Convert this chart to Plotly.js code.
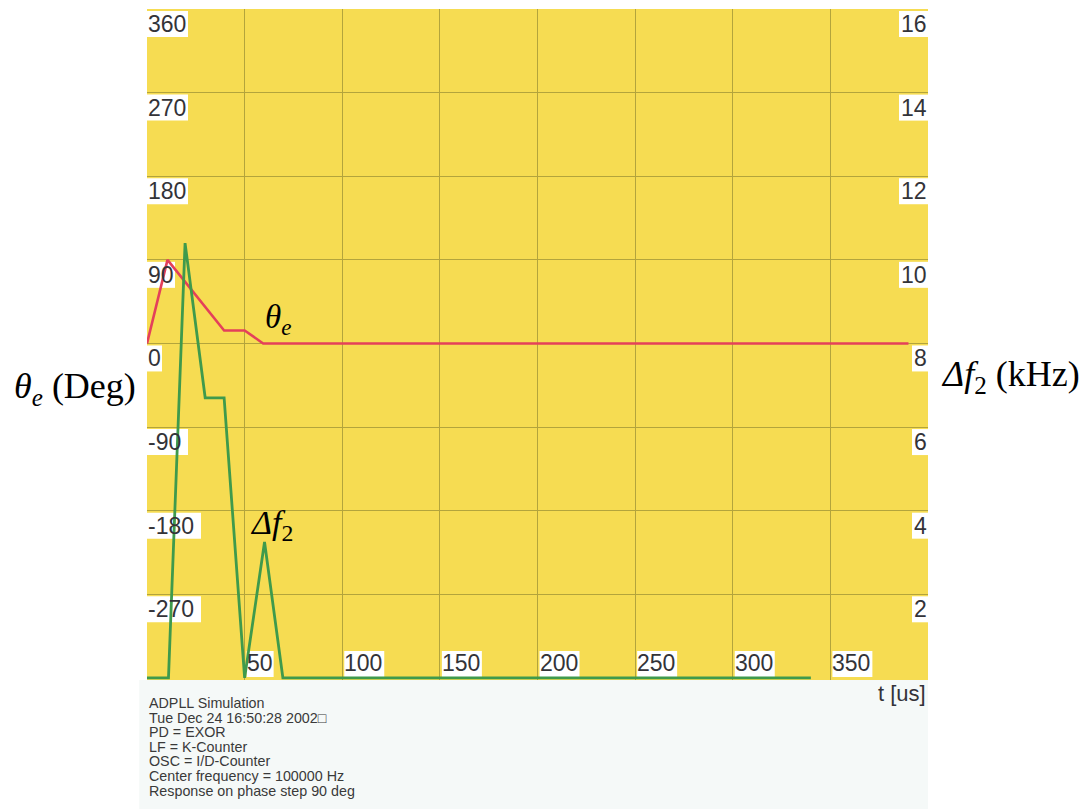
<!DOCTYPE html>
<html>
<head>
<meta charset="utf-8">
<script src="https://cdn.plot.ly/plotly-3.0.1.min.js"></script>
<style>html,body{margin:0;padding:0;background:#fff;}#chart{width:1087px;height:809px;}</style>
</head>
<body>
<div id="chart"></div>
<script>
// Data
const thetaT = [0, 10.5, 39.5, 50, 59.5, 390];   // t [us]
const thetaDeg = [0, 90, 14, 14, 0, 0];          // theta_e (deg)
const dfT = [0, 11, 19.5, 29.8, 39.5, 50, 60.2, 69.6, 340]; // t [us]
const dfKHz = [0, 0, 10.4, 6.7, 6.7, 0, 3.25, 0, 0];     // delta f2 (kHz)

const xTicks = [50, 100, 150, 200, 250, 300, 350];
const yLeftTicks = [360, 270, 180, 90, 0, -90, -180, -270];
const yLeftLabels = ["360", "270", "180", "90", "0", "-90", "-180", "-270"];
const yRightTicks = [16, 14, 12, 10, 8, 6, 4, 2];
const infoLines = [
  "ADPLL Simulation",
  "Tue Dec 24 16:50:28 2002\u25A1",
  "PD = EXOR",
  "LF = K-Counter",
  "OSC = I/D-Counter",
  "Center frequency = 100000 Hz",
  "Response on phase step 90 deg"
];

const sans = "Liberation Sans, Arial, sans-serif";
const serif = "Liberation Serif, Times New Roman, serif";
const tickFont = {family: sans, size: 23, color: "#333338"};
const labW = s => 13 * s.length + 2;

const traces = [
  {x: thetaT, y: thetaDeg, mode: "lines", line: {color: "#e4405a", width: 2.6}, yaxis: "y", hoverinfo: "skip"},
  {x: dfT, y: dfKHz, mode: "lines", line: {color: "#3f9a4c", width: 2.8}, yaxis: "y2", hoverinfo: "skip"}
];

const ann = [];
const shapes = [{type: "rect", xref: "paper", yref: "paper", x0: -0.01, x1: 1.0, y0: -0.193, y1: 0,
  fillcolor: "#f5f9f8", line: {width: 0}, layer: "below"}];
const boxStyle = {fillcolor: "#ffffff", line: {width: 0}, layer: "between"};

yLeftTicks.forEach((v, i) => {
  const s = yLeftLabels[i];
  ann.push({xref: "paper", x: 0, yref: "y", y: v, xanchor: "left", yanchor: "top", yshift: -1,
    text: s, showarrow: false, font: tickFont, borderpad: 0});
  shapes.push(Object.assign({type: "rect", xref: "paper", xsizemode: "pixel", xanchor: 0, x0: -2, x1: labW(s),
    yref: "y", ysizemode: "pixel", yanchor: v, y0: -2, y1: -28}, boxStyle));
});
yRightTicks.forEach(v => {
  const s = String(v);
  ann.push({xref: "paper", x: 1, yref: "y2", y: v, xanchor: "right", yanchor: "top", yshift: -1,
    text: s, showarrow: false, font: tickFont, borderpad: 0});
  shapes.push(Object.assign({type: "rect", xref: "paper", xsizemode: "pixel", xanchor: 1, x0: -labW(s) - 1, x1: 0,
    yref: "y2", ysizemode: "pixel", yanchor: v, y0: -2, y1: -28}, boxStyle));
});
xTicks.forEach(v => {
  const s = String(v);
  ann.push({xref: "x", x: v, yref: "paper", y: 0, xanchor: "left", yanchor: "bottom", xshift: 1, yshift: 3,
    text: s, showarrow: false, font: tickFont, borderpad: 0});
  shapes.push(Object.assign({type: "rect", xref: "x", xsizemode: "pixel", xanchor: v, x0: 2, x1: labW(s) + 1,
    yref: "paper", ysizemode: "pixel", yanchor: 0, y0: 3, y1: 29}, boxStyle));
});
infoLines.forEach((s, i) => ann.push({
  xref: "paper", x: 0, yref: "paper", y: 0, xanchor: "left", yanchor: "middle",
  xshift: 0, yshift: -(23 + i * 14.6),
  text: s, showarrow: false, font: {family: sans, size: 14.3, color: "#3a3a3a"}
}));
// axis titles and curve labels
ann.push({xref: "paper", x: 0, yref: "paper", y: 0.5, xanchor: "right", yanchor: "middle", xshift: -9, yshift: -44,
  text: "<i>θ<sub>e</sub></i> (Deg)", showarrow: false, font: {family: serif, size: 36, color: "#000"}});
ann.push({xref: "paper", x: 1, yref: "paper", y: 0.5, xanchor: "left", yanchor: "middle", xshift: 11, yshift: -32,
  text: "<i>Δf</i><sub>2</sub> (kHz)", showarrow: false, font: {family: serif, size: 36, color: "#000"}});
ann.push({xref: "paper", x: 1, yref: "paper", y: 0, xanchor: "right", yanchor: "top", yshift: 1,
  text: "t [us]", showarrow: false, font: {family: sans, size: 22, color: "#333338"}});
ann.push({xref: "x", x: 67, yref: "y", y: 26, xanchor: "center", yanchor: "middle",
  text: "<i>θ<sub>e</sub></i>", showarrow: false, font: {family: serif, size: 33, color: "#000"}});
ann.push({xref: "x", x: 64, yref: "y2", y: 3.65, xanchor: "center", yanchor: "middle",
  text: "<i>Δf</i><sub>2</sub>", showarrow: false, font: {family: serif, size: 34, color: "#000"}});

const layout = {
  width: 1087, height: 809,
  margin: {l: 147, r: 159, t: 9, b: 129, pad: 0},
  paper_bgcolor: "#ffffff",
  plot_bgcolor: "#f6dc52",
  showlegend: false,
  xaxis: {range: [0, 400], tickvals: xTicks, showticklabels: false, showgrid: true,
    gridcolor: "#b3a43c", gridwidth: 1, zeroline: false, showline: false, ticks: ""},
  yaxis: {range: [-362.25, 360], tickvals: yLeftTicks, showticklabels: false, showgrid: true,
    gridcolor: "#b3a43c", gridwidth: 1, zeroline: false, showline: false, ticks: ""},
  yaxis2: {range: [-0.05, 16], overlaying: "y", side: "right", showticklabels: false,
    showgrid: false, zeroline: false, showline: false, ticks: ""},
  shapes: shapes,
  annotations: ann
};

Plotly.newPlot("chart", traces, layout, {staticPlot: true, displayModeBar: false});
</script>
</body>
</html>
